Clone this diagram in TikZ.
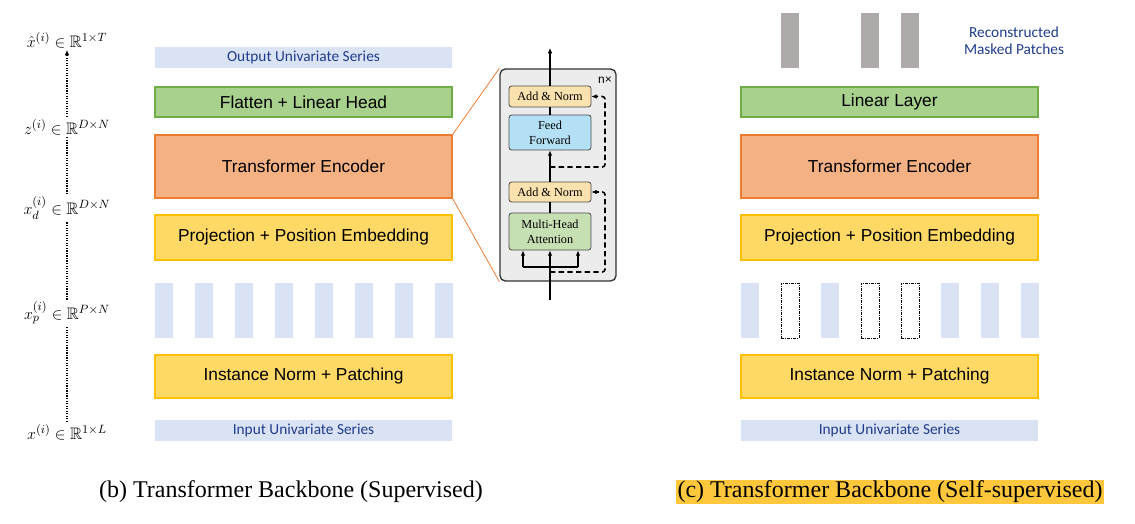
\documentclass[tikz,border=0pt]{standalone}
\usepackage{fontspec}
\setmainfont{Liberation Serif}
\newfontfamily\arialfont{Liberation Sans}
\newfontfamily\calfont{Carlito}
\usepackage{amssymb}
\usetikzlibrary{arrows.meta}
\definecolor{barblue}{HTML}{DAE3F3}
\definecolor{txtblue}{HTML}{203C8C}
\definecolor{headfill}{HTML}{A9D18E}
\definecolor{headline}{HTML}{70AD47}
\definecolor{encfill}{HTML}{F4B183}
\definecolor{encline}{HTML}{ED7D31}
\definecolor{embfill}{HTML}{FFD966}
\definecolor{embline}{HTML}{FFC000}
\definecolor{recgray}{HTML}{AEAAAA}
\definecolor{anfill}{HTML}{FAE2AE}
\definecolor{fffill}{HTML}{B4E0F5}
\definecolor{mhafill}{HTML}{C6E0B4}
\definecolor{hilite}{HTML}{FFC83C}

\begin{document}
\begin{tikzpicture}[x=0.75pt,y=-0.75pt,
	box/.style = {draw, line width=1.2pt, minimum width=222.75pt, inner sep=0pt, font=\arialfont\fontsize{13}{15}\selectfont},
	bar/.style = {fill=barblue, minimum width=222.75pt, minimum height=15.75pt, inner sep=0pt, text=txtblue, font=\calfont\fontsize{11.5}{13}\selectfont},
	patch/.style = {minimum width=13.5pt, minimum height=41.25pt, inner sep=0pt},
	sub/.style = {draw=gray!60!black, line width=0.6pt, rounded corners=2pt, minimum width=61.5pt, inner sep=0pt, align=center, font=\fontsize{9.2}{11}\selectfont},
	lbl/.style = {inner sep=1.5pt, font=\fontsize{12.5}{14}\selectfont},
	arr/.style = {-{Latex[length=4pt,width=3.5pt]}}]
					\useasboundingbox (0,0) rectangle (1135,524);
					\begin{scope}[every node/.style={box}]
						\node[fill=headfill,draw=headline,minimum height=22.5pt] (head) at (303.5,102) {Flatten + Linear Head};
						\node[fill=encfill,draw=encline,minimum height=47.25pt] (enc) at (303.5,166.5) {Transformer Encoder};
						\node[fill=embfill,draw=embline,minimum height=33.75pt] (proj) at (303.5,237.5) {Projection + Position Embedding};
						\node[fill=embfill,draw=embline,minimum height=32.25pt] (norm) at (303.5,376.5) {Instance Norm + Patching};
						\node[fill=headfill,draw=headline,minimum height=22.5pt] (head2) at (889.5,102) {Linear Layer};
						\node[fill=encfill,draw=encline,minimum height=47.25pt] (enc2) at (889.5,166.5) {Transformer Encoder};
						\node[fill=embfill,draw=embline,minimum height=33.75pt] (proj2) at (889.5,237.5) {Projection + Position Embedding};
						\node[fill=embfill,draw=embline,minimum height=32.25pt] (norm2) at (889.5,376.5) {Instance Norm + Patching};
					\end{scope}
					\node[bar] (out) at (303.5,57.5) {Output Univariate Series};
					\node[bar] (in) at (303.5,430.5) {Input Univariate Series};
					\node[bar] (in2) at (889.5,430.5) {Input Univariate Series};
					\foreach \i in {0,...,7}
						\node[patch,fill=barblue] (p\i) at (164+40*\i,310.5) {};
					\foreach \i in {0,2,5,6,7}
						\node[patch,fill=barblue] (q\i) at (750+40*\i,310.5) {};
					\foreach \i in {1,3,4} {
						\node[patch,draw,line width=0.5pt,dash pattern=on 2pt off 1pt on 0.5pt off 1pt] (q\i) at (750+40*\i,310.5) {};
						\node[patch,fill=recgray] (r\i) at (750+40*\i,40.5) {};
					}
					\node[text=txtblue,align=center,font=\calfont\fontsize{11.5}{12.75}\selectfont] (rec) at (1014,40.5) {Reconstructed\\Masked Patches};
					\node[lbl] (xhat) at (67,40) {$\hat{x}^{(i)}\in\mathbb{R}^{1\times T}$};
					\node[lbl] (z) at (67,127) {$z^{(i)}\in\mathbb{R}^{D\times N}$};
					\node[lbl] (xd) at (67,208) {$x_d^{(i)}\in\mathbb{R}^{D\times N}$};
					\node[lbl] (xp) at (67,313) {$x_p^{(i)}\in\mathbb{R}^{P\times N}$};
					\node[lbl] (xin) at (67,432) {$x^{(i)}\in\mathbb{R}^{1\times L}$};
					\draw [densely dotted,line width=0.9pt] (xin) -- (xp);
					\draw [densely dotted,line width=0.9pt] (xp) -- (xd);
					\draw [densely dotted,line width=0.9pt] (xd) -- (z);
					\draw [densely dotted,line width=0.9pt,arr] (z) -- (xhat);
					\node[draw=gray!40!black,fill=gray!15,line width=1pt,rounded corners=4pt,minimum width=87pt,minimum height=159pt] (blk) at (558,175) {};
					\node[font=\arialfont\fontsize{9}{10}\selectfont] (nx) at (605,80) {n×};
					\node[sub,fill=anfill,minimum height=15.75pt] (an2) at (550,96.5) {Add \& Norm};
					\node[sub,fill=fffill,minimum height=26.25pt] (ff) at (550,132.5) {Feed\\Forward};
					\node[sub,fill=anfill,minimum height=15pt] (an1) at (550,192) {Add \& Norm};
					\node[sub,fill=mhafill,minimum height=27.75pt] (mha) at (550,231.5) {Multi-Head\\Attention};
					\draw [encline,line width=0.6pt] (enc.north east) -- (blk.north west);
					\draw [encline,line width=0.6pt] (enc.south east) -- (blk.south west);
					\coordinate (bin) at (550,300);
					\coordinate (bout) at (550,48);
					\coordinate (jl) at (523,267);
					\coordinate (jr) at (578,267);
					\coordinate (s1) at (550,272);
					\coordinate (s2) at (550,167);
					\draw [line width=1pt,arr] (bin) -- (mha);
					\draw [line width=1pt] (jl) -- (jr);
					\draw [line width=1pt,arr] (jl) -- (jl |- mha.south);
					\draw [line width=1pt,arr] (jr) -- (jr |- mha.south);
					\draw [line width=1pt] (mha) -- (an1);
					\draw [line width=1pt,arr] (an1) -- (ff);
					\draw [line width=1pt] (ff) -- (an2);
					\draw [line width=1pt,arr] (an2) -- (bout);
					\draw [line width=1.2pt,dash pattern=on 4pt off 2.5pt,rounded corners=2pt,arr] (s1) -- ++(55,0) |- (an1.east);
					\draw [line width=1.2pt,dash pattern=on 4pt off 2.5pt,rounded corners=2pt,arr] (s2) -- ++(55,0) |- (an2.east);
					\node[font=\fontsize{18}{20}\selectfont] (capb) at (291,492) {(b) Transformer Backbone (Supervised)};
					\node[fill=hilite,inner xsep=1pt,inner ysep=1pt,font=\fontsize{18}{20}\selectfont] (capc) at (890,492) {(c) Transformer Backbone (Self-supervised)};
				\end{tikzpicture}
\end{document}
